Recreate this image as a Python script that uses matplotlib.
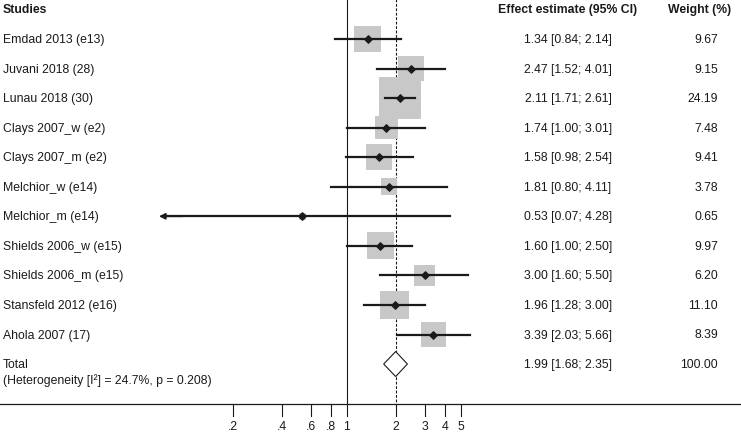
import numpy as np
import matplotlib
matplotlib.use("Agg")
import matplotlib.pyplot as plt
from matplotlib.patches import Polygon
import matplotlib.transforms as mtransforms
from matplotlib import font_manager

names = {f.name for f in font_manager.fontManager.ttflist}
if 'Liberation Sans Narrow' in names:
    plt.rcParams['font.family'] = ['Liberation Sans Narrow', 'DejaVu Sans']
    fsize = 10.2
else:
    plt.rcParams['font.family'] = ['Liberation Sans', 'DejaVu Sans']
    fsize = 8.8

studies = ["Emdad 2013 (e13)", "Juvani 2018 (28)", "Lunau 2018 (30)",
           "Clays 2007_w (e2)", "Clays 2007_m (e2)", "Melchior_w (e14)",
           "Melchior_m (e14)", "Shields 2006_w (e15)", "Shields 2006_m (e15)",
           "Stansfeld 2012 (e16)", "Ahola 2007 (17)"]
est = [1.34, 2.47, 2.11, 1.74, 1.58, 1.81, 0.53, 1.60, 3.00, 1.96, 3.39]
lo = [0.84, 1.52, 1.71, 1.00, 0.98, 0.80, 0.07, 1.00, 1.60, 1.28, 2.03]
hi = [2.14, 4.01, 2.61, 3.01, 2.54, 4.11, 4.28, 2.50, 5.50, 3.00, 5.66]
weight = [9.67, 9.15, 24.19, 7.48, 9.41, 3.78, 0.65, 9.97, 6.20, 11.10, 8.39]

total_est, total_lo, total_hi = 1.99, 1.68, 2.35
total_weight = 100.00
heterogeneity = "(Heterogeneity [I²] = 24.7%, p = 0.208)"

tick_vals = [0.2, 0.4, 0.6, 0.8, 1, 2, 3, 4, 5]
tick_labels = [".2", ".4", ".6", ".8", "1", "2", "3", "4", "5"]
clip_lo = 0.075  # CIs below this get an arrow

W, H = 741, 435
fig = plt.figure(figsize=(W / 100, H / 100), dpi=100)
ax = fig.add_axes([0, 0, 1, 1])
ax.set_xscale('log')
# x pixel = 347 + 70.7*ln(v)
ax.set_xlim(np.exp(-347 / 70.7), np.exp((W - 347) / 70.7))
row_h = 29.55
y0 = 40
ax.set_ylim((H - y0) / row_h, -y0 / row_h)
ax.axis('off')

txt = dict(fontsize=fsize, color='#1a1a1a', va='center')
trans = mtransforms.blended_transform_factory(fig.transFigure, ax.transData)
n = len(studies)
rows = np.arange(n)
axis_y = (405 - y0) / row_h
top_y = -y0 / row_h

# reference lines
ax.plot([1, 1], [top_y, axis_y], color='#1a1a1a', lw=0.8)
ax.plot([total_est, total_est], [top_y, axis_y], color='#1a1a1a', lw=0.8,
        ls=(0, (2.5, 1.5)))
ax.axhline(axis_y, color='#1a1a1a', lw=0.9)

# boxes
ax.scatter(est, rows, marker='s', s=37.5 * np.array(weight), color='#c8c8c8',
           edgecolor='none', zorder=2)
for i in range(n):
    if lo[i] < clip_lo:
        ax.plot([lo[i] * 1.12, hi[i]], [i, i], color='#1a1a1a', lw=1.6, zorder=3)
        ax.annotate("", xy=(lo[i], i), xytext=(lo[i] * 1.4, i),
                    arrowprops=dict(arrowstyle='-|>', color='#1a1a1a', lw=1.2,
                                    mutation_scale=9, shrinkA=0, shrinkB=0),
                    zorder=3)
    else:
        ax.plot([lo[i], hi[i]], [i, i], color='#1a1a1a', lw=1.6, zorder=3)
ax.scatter(est, rows, marker='D', s=14, color='#1a1a1a', zorder=4)

# total diamond
ty = n
dh = 12.5 / row_h
ax.add_patch(Polygon([(total_lo, ty), (total_est, ty - dh), (total_hi, ty),
                      (total_est, ty + dh)], closed=True, facecolor='white',
                     edgecolor='#1a1a1a', lw=0.8, zorder=3))

# ticks
tick_len = 12 / row_h
for v, lab in zip(tick_vals, tick_labels):
    ax.plot([v, v], [axis_y, axis_y + tick_len], color='#1a1a1a', lw=0.8)
    ax.text(v, (427 - y0) / row_h, lab, ha='center', **txt)

# text columns
hdr_y = (10 - y0) / row_h
ax.text(3 / W, hdr_y, "Studies", transform=trans, ha='left', fontweight='bold', **txt)
ax.text(568 / W, hdr_y, "Effect estimate (95% CI)", transform=trans, ha='center',
        fontweight='bold', **txt)
ax.text(700 / W, hdr_y, "Weight (%)", transform=trans, ha='center',
        fontweight='bold', **txt)
for i in range(n):
    ax.text(3 / W, i, studies[i], transform=trans, ha='left', **txt)
    ax.text(568 / W, i, "{:.2f} [{:.2f}; {:.2f}]".format(est[i], lo[i], hi[i]),
            transform=trans, ha='center', **txt)
    ax.text(718 / W, i, "{:.2f}".format(weight[i]), transform=trans, ha='right', **txt)

ax.text(3 / W, ty, "Total", transform=trans, ha='left', **txt)
ax.text(3 / W, (381 - y0) / row_h, heterogeneity, transform=trans, ha='left', **txt)
ax.text(568 / W, ty, "{:.2f} [{:.2f}; {:.2f}]".format(total_est, total_lo, total_hi),
        transform=trans, ha='center', **txt)
ax.text(718 / W, ty, "{:.2f}".format(total_weight), transform=trans, ha='right', **txt)

fig.savefig("out.png", dpi=100, facecolor='white')
